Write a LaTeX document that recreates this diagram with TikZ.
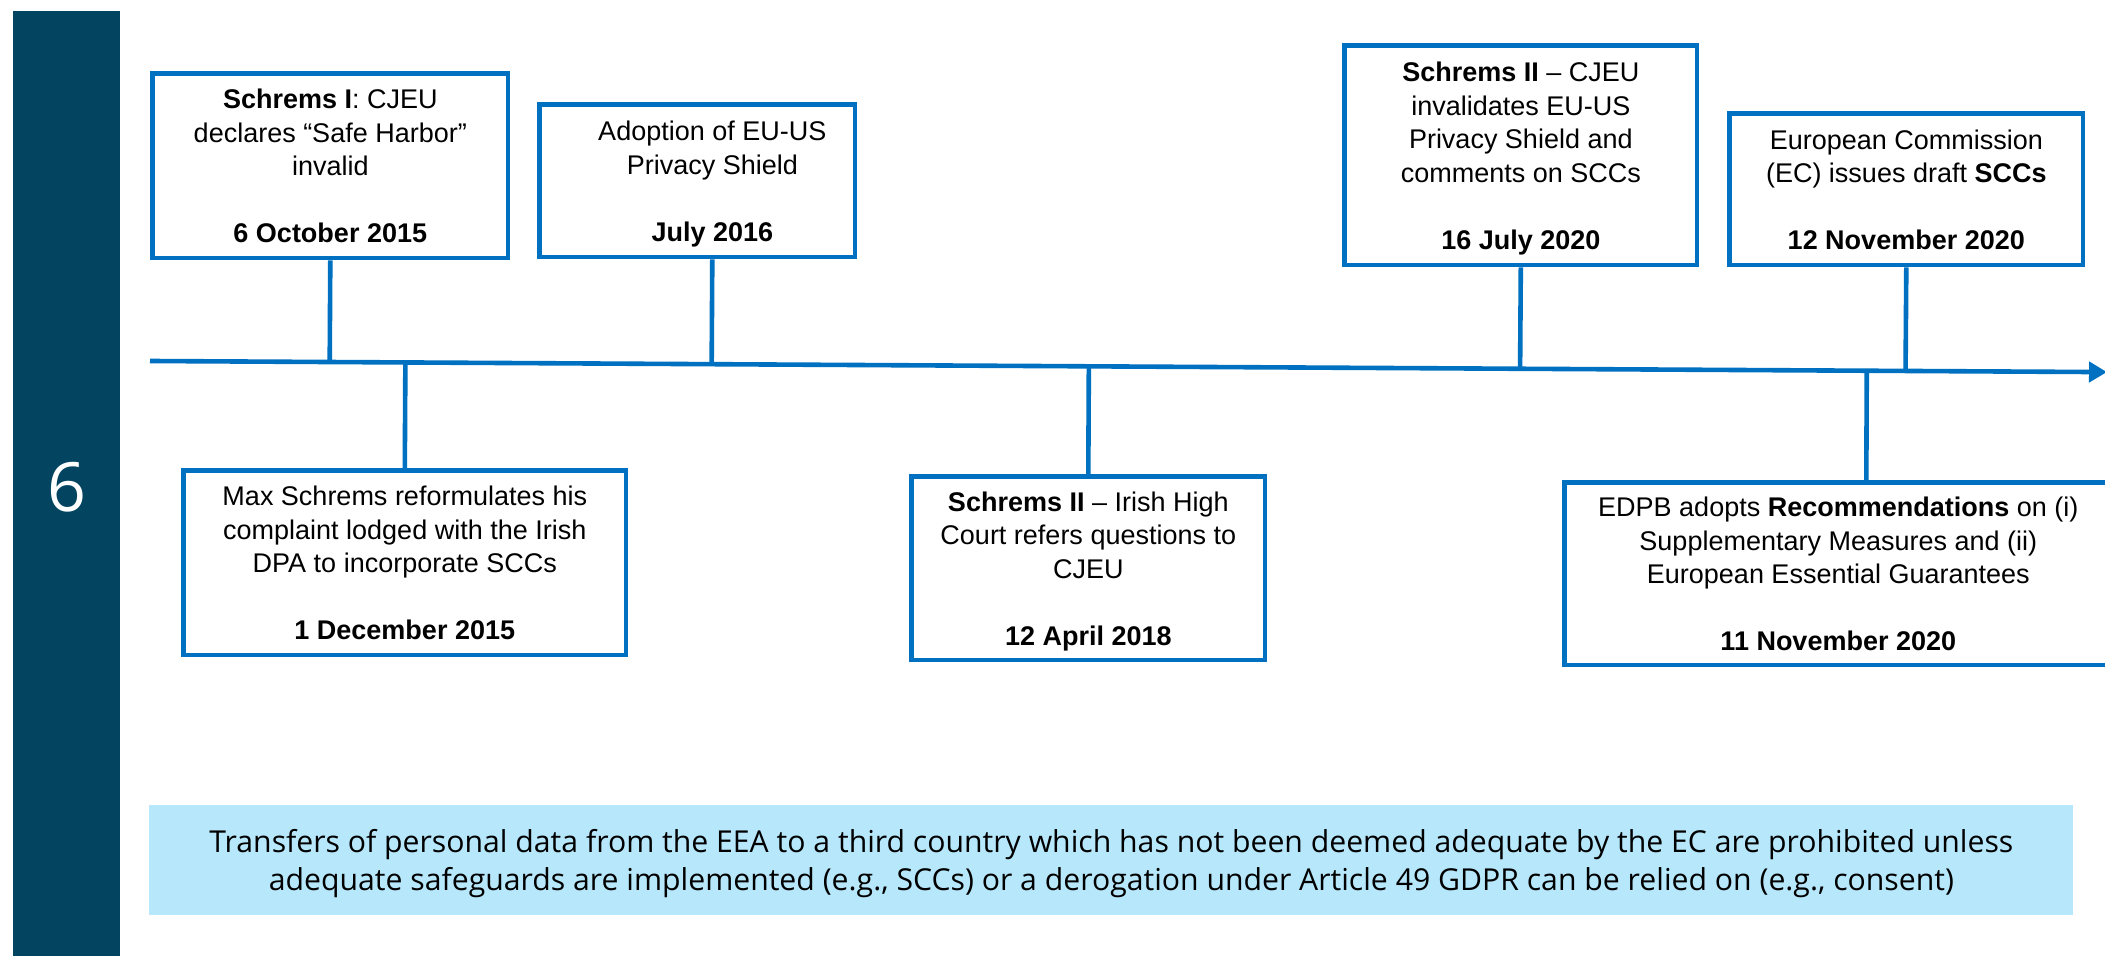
\documentclass[tikz,border=0pt]{standalone}
\usepackage{fontspec}
\setmainfont{Liberation Sans}
\newfontfamily\segoe{Open Sans}
\usetikzlibrary{arrows.meta,calc}
\definecolor{tlblue}{RGB}{0,112,192}
\definecolor{barblue}{RGB}{3,69,97}
\definecolor{notefill}{RGB}{182,231,251}
\newcommand\evfont{\fontsize{13.5pt}{16.75pt}\selectfont}
\newcommand\sh{\hspace*{15pt}}
\begin{document}
\begin{tikzpicture}[x=0.5pt,y=-0.5pt,
  evbox/.style={draw=tlblue, line width=2.3pt, inner xsep=0pt, inner ysep=0pt,
    align=center, font=\evfont, text depth=0pt, anchor=north west},
  tl/.style={draw=tlblue, line width=2.3pt},
  notebox/.style={fill=notefill, inner sep=0pt, align=center, anchor=north west,
    font=\segoe\fontsize{15.1pt}{19pt}\selectfont, text height=30pt, text depth=0pt}]
\useasboundingbox (0,0) rectangle (2105,956);
% side bar
\fill[barblue] (13,11) rectangle (120,956);
\node[text=white, font=\segoe\fontsize{34pt}{34pt}\selectfont, inner sep=0pt] (num) at (67,487) {6};
% events above
\node[evbox, minimum width=177.7pt, minimum height=92.2pt, text height=77pt] (b1) at (150.3,71.3)
  {\textbf{Schrems I}: CJEU\\declares “Safe Harbor”\\invalid\\[16.75pt]\textbf{6 October 2015}};
\node[evbox, minimum width=157.7pt, minimum height=76.2pt, text height=60.25pt] (b2) at (537.3,102.3)
  {\sh Adoption of EU-US\\\sh Privacy Shield\\[16.75pt]\sh\textbf{July 2016}};
\node[evbox, minimum width=176.2pt, minimum height=109.7pt, text height=93.75pt] (b3) at (1342.3,43.3)
  {\textbf{Schrems II} – CJEU\\invalidates EU-US\\Privacy Shield and\\comments on SCCs\\[16.75pt]\textbf{16 July 2020}};
\node[evbox, minimum width=176.7pt, minimum height=75.7pt, text height=60.25pt] (b4) at (1727.3,111.3)
  {European Commission\\(EC) issues draft \textbf{SCCs}\\[16.75pt]\textbf{12 November 2020}};
% events below
\node[evbox, minimum width=221.2pt, minimum height=92.2pt, text height=77pt] (b5) at (181.3,468.3)
  {Max Schrems reformulates his\\complaint lodged with the Irish\\DPA to incorporate SCCs\\[16.75pt]\textbf{1 December 2015}};
\node[evbox, minimum width=176.7pt, minimum height=91.7pt, text height=77pt] (b6) at (909.3,474.3)
  {\textbf{Schrems II} – Irish High\\Court refers questions to\\CJEU\\[16.75pt]\textbf{12 April 2018}};
\node[evbox, minimum width=273.7pt, minimum height=91.2pt, text height=77pt] (b7) at (1562.3,480.3)
  {EDPB adopts \textbf{Recommendations} on (i)\\Supplementary Measures and (ii)\\European Essential Guarantees\\[16.75pt]\textbf{11 November 2020}};
% timeline
\coordinate (t0) at (150,361);
\coordinate (t1) at (2107,372.1);
\draw[tl, -{Triangle[length=9pt,width=10pt]}] (t0) -- (t1);
% ticks
\draw[tl] (b1.south) -- ($(t0)!(b1.south)!(t1)$);
\draw[tl] ([xshift=7.5pt]b2.south) -- ($(t0)!([xshift=7.5pt]b2.south)!(t1)$);
\draw[tl] (b3.south) -- ($(t0)!(b3.south)!(t1)$);
\draw[tl] (b4.south) -- ($(t0)!(b4.south)!(t1)$);
\draw[tl] (b5.north) -- ($(t0)!(b5.north)!(t1)$);
\draw[tl] (b6.north) -- ($(t0)!(b6.north)!(t1)$);
\draw[tl] ([xshift=14pt]b7.north) -- ($(t0)!([xshift=14pt]b7.north)!(t1)$);
% note
\node[notebox, minimum width=962pt, minimum height=55pt] (note) at (149,805)
  {Transfers of personal data from the EEA to a third country which has not been deemed adequate by the EC are prohibited unless\\adequate safeguards are implemented (e.g., SCCs) or a derogation under Article 49 GDPR can be relied on (e.g., consent)};
\end{tikzpicture}
\end{document}
